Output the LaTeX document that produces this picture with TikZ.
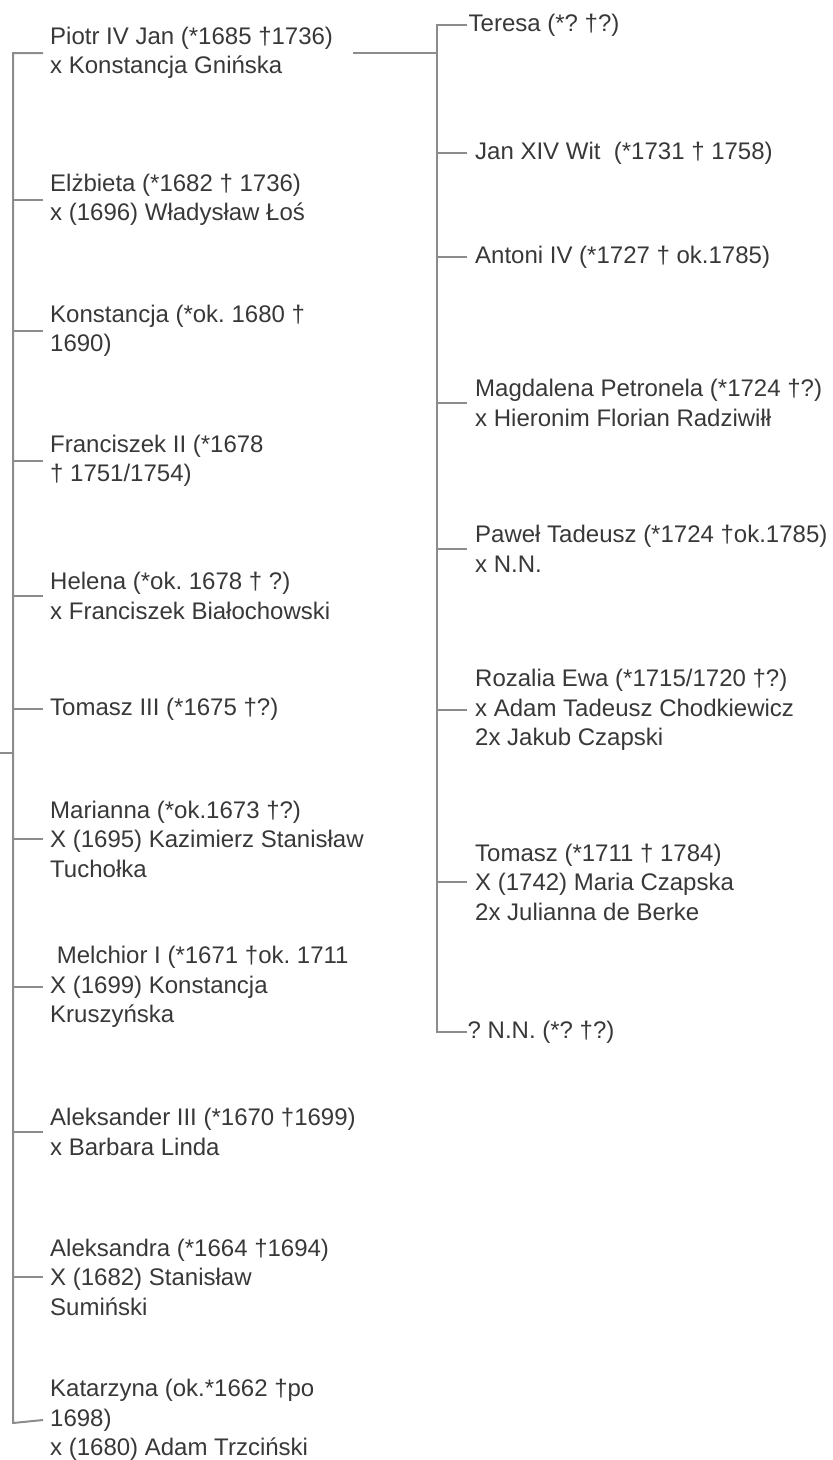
\documentclass[tikz,border=0pt]{standalone}
\usepackage{fontspec}
\setmainfont{Liberation Sans}
\usetikzlibrary{calc}
\definecolor{txtgray}{HTML}{383838}
\definecolor{linegray}{HTML}{8C8C8C}
\frenchspacing

\begin{document}
\begin{tikzpicture}[x=1pt,y=-1pt,line join=miter,line cap=butt]
\tikzset{every node/.style={anchor=west,align=left,text=txtgray,inner ysep=0pt,inner xsep=7pt,
  font=\fontsize{24}{29.5}\selectfont},
  kid/.style={inner xsep=8pt},
  branch/.style={draw=linegray,line width=2pt}}
\clip (0,0) rectangle (833,1460);
\useasboundingbox (0,0) rectangle (833,1460);
\coordinate (ltop) at (13,53);
\coordinate (lbot) at (13,1423);
\coordinate (parent) at (0,753);
\coordinate (rtop) at (437,25);
\coordinate (rbot) at (437,1032);
\node (piotr) at (43,53) {Piotr IV Jan (*1685 †1736)\\x Konstancja Gnińska};
\node (elzbieta) at (43,200) {Elżbieta (*1682 † 1736)\\x (1696) Władysław Łoś};
\node (konstancja) at (43,331) {Konstancja (*ok. 1680 †\\1690)};
\node (franciszek) at (43,461) {Franciszek II (*1678\\† 1751/1754)};
\node (helena) at (43,596) {Helena (*ok. 1678 † ?)\\x Franciszek Białochowski};
\node (tomaszIII) at (43,709) {Tomasz III (*1675 †?)};
\node (marianna) at (43,839) {Marianna (*ok.1673 †?)\\X (1695) Kazimierz Stanisław\\Tuchołka};
\node (melchior) at (43,987) {~Melchior I (*1671 †ok. 1711\\X (1699) Konstancja\\Kruszyńska};
\node (aleksander) at (43,1132) {Aleksander III (*1670 †1699)\\x Barbara Linda};
\node (aleksandra) at (43,1277) {Aleksandra (*1664 †1694)\\X (1682) Stanisław\\Sumiński};
\node (katarzyna) at (43,1420) {Katarzyna (ok.*1662 †po\\1698)\\x (1680) Adam Trzciński};
\node[inner xsep=1.5pt] (teresa) at (467,25) {Teresa (*? †?)};
\node[kid] (jan) at (467,153) {Jan XIV Wit~ (*1731 † 1758)};
\node[kid] (antoni) at (467,257) {Antoni IV (*1727 † ok.1785)};
\node[kid] (magdalena) at (467,403) {Magdalena Petronela (*1724 †?)\\x Hieronim Florian Radziwiłł};
\node[kid] (pawel) at (467,549) {Paweł Tadeusz (*1724 †ok.1785)\\x N.N.};
\node[kid] (rozalia) at (467,710) {Rozalia Ewa (*1715/1720 †?)\\x Adam Tadeusz Chodkiewicz\\2x Jakub Czapski};
\node[kid] (tomasz) at (467,882) {Tomasz (*1711 † 1784)\\X (1742) Maria Czapska\\2x Julianna de Berke};
\node[inner xsep=0.5pt] (nn) at (467,1032) {? N.N. (*? †?)};
\draw[branch] (piotr.west) -- (ltop) -- (lbot) -- (katarzyna.west);
\draw[branch] (parent) -- (parent -| ltop);
\foreach \k in {elzbieta,konstancja,franciszek,helena,tomaszIII,marianna,melchior,aleksander,aleksandra}
  \draw[branch] (\k.west) -- (\k.west -| ltop);
\draw[branch] ([xshift=13pt]piotr.east) -- (piotr.east -| rtop);
\draw[branch] (teresa.west) -- (rtop) -- (rbot) -- (nn.west);
\foreach \k in {jan,antoni,magdalena,pawel,rozalia,tomasz}
  \draw[branch] (\k.west) -- (\k.west -| rtop);
\end{tikzpicture}
\end{document}
